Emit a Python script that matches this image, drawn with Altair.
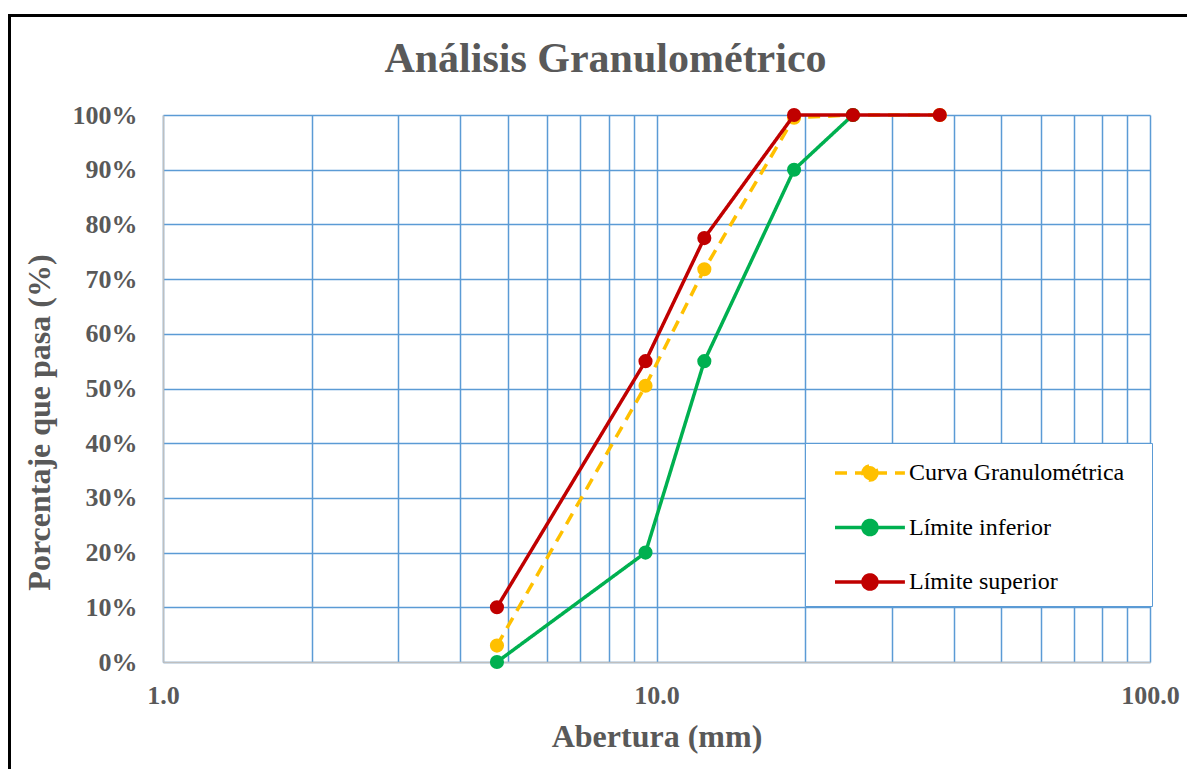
import altair as alt
import pandas as pd

# ---- data ----
aberturas = [4.75, 9.5, 12.5, 19.0, 25.0, 37.5]
series = ["Curva Granulométrica", "Límite inferior", "Límite superior"]
curva = [3.0, 50.5, 71.8, 99.5, 100.0, 100.0]
lim_inf = [0.0, 20.0, 55.0, 90.0, 100.0]
lim_sup = [10.0, 55.0, 77.5, 100.0, 100.0, 100.0]
colores = ["#FFC000", "#00B050", "#C00000"]
x_ticks = [1, 2, 3, 4, 5, 6, 7, 8, 9, 10, 20, 30, 40, 50, 60, 70, 80, 90, 100]
y_ticks = [0.0, 0.1, 0.2, 0.3, 0.4, 0.5, 0.6, 0.7, 0.8, 0.9, 1.0]

rows = []
for name, vals in zip(series, [curva, lim_inf, lim_sup]):
    for i, v in enumerate(vals):
        rows.append({"serie": name, "abertura": aberturas[i], "pasa": v / 100.0, "orden": i})
df = pd.DataFrame(rows)

FONT = "Liberation Serif"
GRAY = "#595959"
GRID = "#5B9BD5"

# legend symbol: a line with a dot in its middle (unit = sqrt(size)/2 px)
sym_path = "M0,0L3.68,0M2.21,0A0.37,0.37,0,1,1,1.47,0A0.37,0.37,0,1,1,2.21,0Z"
legend = alt.Legend(
    title=None, orient="none", legendX=642, legendY=328,
    fillColor="white", strokeColor=GRID, padding=9,
    symbolType=sym_path, symbolSize=1444, symbolStrokeWidth=3.5,
    labelFont=FONT, labelFontSize=24, labelColor="black", labelOffset=53,
    labelExpr="datum.label + '\u2800'",
    rowPadding=18.5, labelLimit=500,
)

x_enc = alt.X(
    "abertura:Q",
    scale=alt.Scale(type="log", domain=[1, 100], nice=False),
    axis=alt.Axis(
        title="Abertura (mm)", values=x_ticks,
        labelExpr="(datum.value == 1 || datum.value == 10 || datum.value == 100) ? format(datum.value, '.1f') : ''",
        labelOverlap=False, labelFlush=False, labelBound=False,
        tickSize=0, labelPadding=20, titlePadding=13,
    ),
)
y_enc = alt.Y(
    "pasa:Q",
    scale=alt.Scale(domain=[0, 1], nice=False),
    axis=alt.Axis(
        title="Porcentaje que pasa (%)", values=y_ticks, format=".0%",
        labelFlush=False, labelOverlap=False, tickSize=0, labelPadding=26,
        titlePadding=16, titleY=307,
    ),
)
stroke_enc = alt.Stroke("serie:N", scale=alt.Scale(domain=series, range=colores), legend=legend)
fill_enc = alt.Fill("serie:N", scale=alt.Scale(domain=series, range=colores), legend=legend)
dash_enc = alt.StrokeDash("serie:N", scale=alt.Scale(domain=series, range=[[12, 8], [1, 0], [1, 0]]), legend=legend)

base = alt.Chart(df)
layers = []
for s in series:
    sub = base.transform_filter(alt.datum.serie == s)
    layers.append(
        sub.mark_line(strokeWidth=3.5).encode(
            x=x_enc, y=y_enc, stroke=stroke_enc, strokeDash=dash_enc, order="orden:Q"
        )
    )
    layers.append(
        sub.mark_circle(size=200, opacity=1).encode(x=x_enc, y=y_enc, fill=fill_enc)
    )

frame_data = alt.Data(values=[{}])
frame_left = alt.Chart(frame_data).mark_rule(color="black", strokeWidth=3).encode(
    x=alt.value(-153.5), y=alt.value(-101), y2=alt.value(660)
)
frame_top = alt.Chart(frame_data).mark_rule(color="black", strokeWidth=3).encode(
    x=alt.value(-155), x2=alt.value(1030), y=alt.value(-99.5)
)

chart = alt.layer(*layers, frame_left, frame_top).properties(
    width=987, height=547,
    autosize=alt.AutoSizeParams(type="none"),
    padding={"left": 163, "top": 115, "right": 37, "bottom": 107},
    title=alt.TitleParams(
        "Análisis Granulométrico", font=FONT, fontSize=42, fontWeight="bold",
        color=GRAY, anchor="middle", dx=-51, offset=-68,
    ),
).configure_view(stroke=None).configure_title(
    font=FONT, fontSize=42, fontWeight="bold", color=GRAY,
).configure_axis(
    labelFont=FONT, labelFontSize=26, labelFontWeight="bold", labelColor=GRAY,
    titleFont=FONT, titleFontSize=32, titleFontWeight="bold", titleColor=GRAY,
    gridColor=GRID, gridWidth=1.5, gridOpacity=1,
    domainColor="#BFBFBF", domainWidth=1.5,
)

chart.save("out.html", embed_options={"renderer": "svg", "actions": False})
